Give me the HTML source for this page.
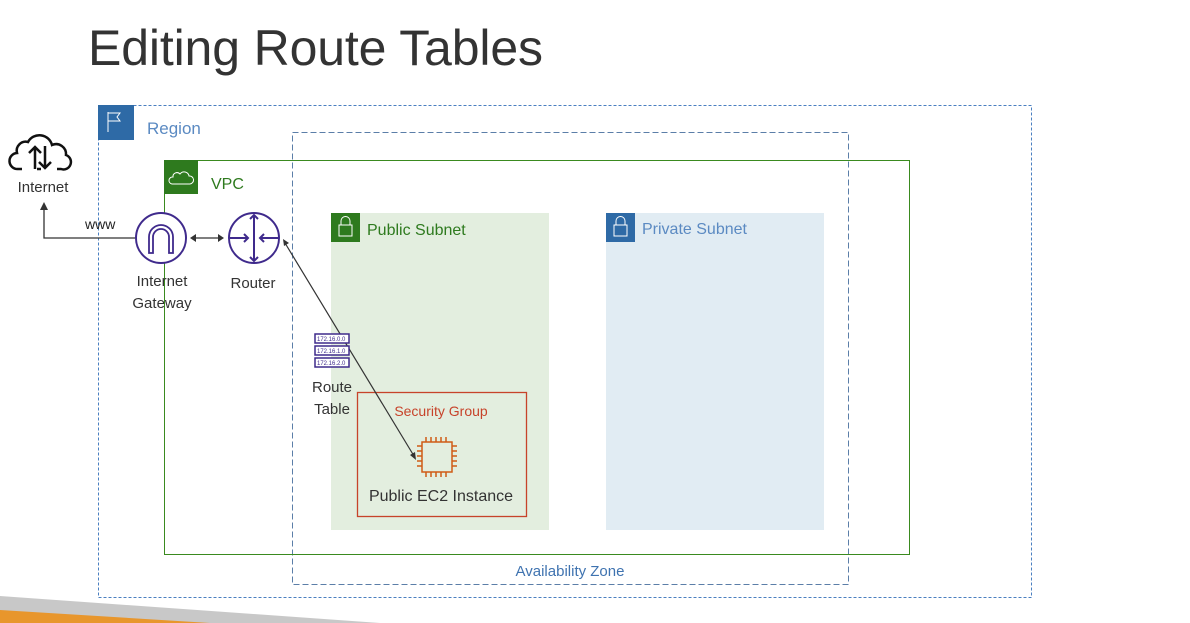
<!DOCTYPE html>
<html><head><style>
body{margin:0;background:#fff;}
svg{display:block;font-family:"Liberation Sans",sans-serif;}
</style></head><body>
<svg width="1190" height="623" viewBox="0 0 1190 623" xmlns="http://www.w3.org/2000/svg">
<text x="88" y="65" font-size="50" fill="#333" letter-spacing="0" textLength="455">Editing Route Tables</text>
<!-- bottom decoration -->
<polygon points="0,596 380,623 0,623" fill="#c8c8c8"/>
<polygon points="0,610 210,623 0,623" fill="#e8962c"/>
<!-- Region -->
<rect x="98.5" y="105.5" width="933" height="492" fill="none" stroke="#4a7fc0" stroke-dasharray="3,2"/>
<rect x="98" y="105" width="36" height="35" fill="#2e6aa6"/>
<path d="M108 132V112 M108 113h12l-3 4 3 4h-12" stroke="#fff" fill="none" stroke-width="1"/>
<text x="147" y="134" font-size="17" fill="#5b8ac2">Region</text>
<!-- AZ -->
<rect x="292.5" y="132.5" width="556" height="452" fill="none" stroke="#5b7ea8" stroke-dasharray="6,3"/>
<text x="570" y="576" font-size="15" fill="#3f73b0" text-anchor="middle">Availability Zone</text>
<!-- VPC -->
<rect x="164.5" y="160.5" width="745" height="394" fill="none" stroke="#3a8a1f" stroke-width="1"/>
<rect x="164" y="160" width="34" height="34" fill="#2e7a1e"/>
<path d="M172 184h18a4 4 0 0 0-1-8a5 5 0 0 0-9-2a4 4 0 0 0-7 3a3.5 3.5 0 0 0-1 7z" fill="none" stroke="#fff" stroke-width="1"/>
<text x="211" y="189" font-size="16" fill="#2e7a1e">VPC</text>
<!-- Public subnet -->
<rect x="331" y="213" width="218" height="317" fill="#e3eedf"/>
<rect x="331" y="213" width="29" height="29" fill="#2e7a1e"/>
<rect x="339" y="225" width="13" height="11" fill="none" stroke="#fff"/>
<path d="M341 225v-4a4 4 0 0 1 9 0v4" fill="none" stroke="#fff"/>
<text x="367" y="235" font-size="16" fill="#2e7a1e">Public Subnet</text>
<!-- Private subnet -->
<rect x="606" y="213" width="218" height="317" fill="#e1ecf3"/>
<rect x="606" y="213" width="29" height="29" fill="#2e6aa6"/>
<rect x="614" y="225" width="13" height="11" fill="none" stroke="#fff"/>
<path d="M616 225v-4a4 4 0 0 1 9 0v4" fill="none" stroke="#fff"/>
<text x="642" y="234" font-size="16" fill="#5b8ac2">Private Subnet</text>
<!-- Security group -->
<rect x="357.5" y="392.5" width="169" height="124" fill="none" stroke="#c7432a" stroke-width="1.3"/>
<text x="441" y="416" font-size="14" fill="#c7432a" text-anchor="middle">Security Group</text>
<g stroke="#d05c17" stroke-width="1.5" fill="none">
<rect x="422" y="442" width="30" height="30"/>
<path d="M426 442v-5M431 442v-5M436 442v-5M441 442v-5M446 442v-5M426 472v5M431 472v5M436 472v5M441 472v5M446 472v5M422 446h-5M422 451h-5M422 456h-5M422 461h-5M422 466h-5M452 446h5M452 451h5M452 456h5M452 461h5M452 466h5"/>
</g>
<text x="441" y="501" font-size="16" fill="#333" text-anchor="middle">Public EC2 Instance</text>
<!-- Internet -->
<g fill="none" stroke="#111" stroke-width="2.5">
<path d="M22 169h-4a8 8 0 0 1 -1-16a9 9 0 0 1 11-11a13 13 0 0 1 24 3a10 10 0 0 1 14 10a7 7 0 0 1 -5 14h-4"/>
<path d="M35 169v-22M29 153l6-6 6 6M45 146v22M39 162l6 6 6-6M41 169h-4"/>
</g>
<text x="43" y="192" font-size="15" fill="#333" text-anchor="middle">Internet</text>
<!-- IGW -->
<circle cx="161" cy="238" r="25" fill="#fff" stroke="#3f2a8c" stroke-width="2"/>
<path d="M149 253v-16a12 12 0 0 1 24 0v16h-4v-16a8 8 0 0 0-16 0v16z" fill="none" stroke="#3f2a8c" stroke-width="1.8"/>
<text x="162" y="286" font-size="15" fill="#333" text-anchor="middle">Internet</text>
<text x="162" y="308" font-size="15" fill="#333" text-anchor="middle">Gateway</text>
<!-- Router -->
<circle cx="254" cy="238" r="25" fill="#fff" stroke="#3f2a8c" stroke-width="2"/>
<g stroke="#3f2a8c" stroke-width="2" fill="none">
<path d="M230 238h18M244 234l4 4-4 4M278 238h-18M264 234l-4 4 4 4M254 215v46M250 219l4-4 4 4M250 257l4 4 4-4"/>
</g>
<text x="253" y="288" font-size="15" fill="#333" text-anchor="middle">Router</text>
<!-- www line -->
<text x="85" y="229" font-size="14" fill="#222">www</text>
<path d="M135 238H44V208" fill="none" stroke="#333" stroke-width="1.3"/>
<path d="M40 210l4-8 4 8z" fill="#333"/>
<!-- IGW-Router arrow -->
<path d="M194 238h26" stroke="#333" stroke-width="1.3"/>
<path d="M196 234l-6 4 6 4zM218 234l6 4-6 4z" fill="#333"/>
<!-- Router-EC2 line -->
<path d="M285 243L414 456" stroke="#333" stroke-width="1.2"/>
<path d="M283 239l6 4-5 3z" fill="#333"/>
<path d="M416 460l-1-8-5 3z" fill="#333"/>
<!-- Route table -->
<g stroke="#3f2a8c" stroke-width="1.5">
<rect x="315" y="334" width="34" height="9" fill="#fff"/>
<rect x="315" y="346" width="34" height="9" fill="#fff"/>
<rect x="315" y="358" width="34" height="9" fill="#fff"/>
</g>
<g font-size="6" fill="#3f2a8c">
<text x="317" y="341">172.16.0.0</text>
<text x="317" y="353">172.16.1.0</text>
<text x="317" y="365">172.16.2.0</text>
</g>
<text x="332" y="392" font-size="15" fill="#333" text-anchor="middle">Route</text>
<text x="332" y="414" font-size="15" fill="#333" text-anchor="middle">Table</text>
</svg>
</body></html>
